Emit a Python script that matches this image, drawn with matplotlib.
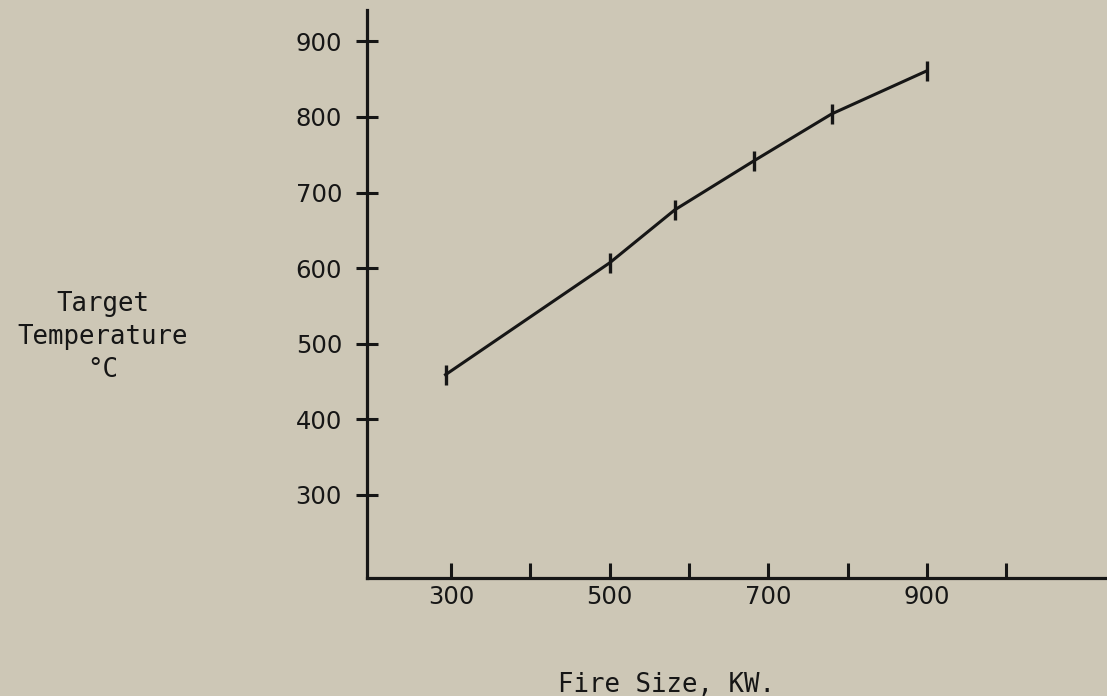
import matplotlib
matplotlib.use("Agg")
import matplotlib.pyplot as plt

# fire size (kW) vs target temperature (deg C)
fire_size = [293, 500, 582, 682, 780, 900]
target_temp = [459, 607, 677, 742, 804, 861]

x_ticks = [300, 400, 500, 600, 700, 800, 900, 1000]
x_labels = ["300", "", "500", "", "700", "", "900", ""]
y_ticks = [300, 400, 500, 600, 700, 800, 900]

paper = "#cdc7b6"
ink = "#161616"

fig = plt.figure(figsize=(11.07, 6.96), dpi=100, facecolor=paper)
ax = fig.add_axes([367 / 1107, 118.3 / 696, 740 / 1107, 567.7 / 696])
ax.set_facecolor(paper)

ax.plot(fire_size, target_temp, color=ink, lw=2.2, marker="|", ms=14, mew=2.4)

ax.set_xlim(194, 1127)
ax.set_ylim(190.5, 941.4)

for side in ["top", "right"]:
    ax.spines[side].set_visible(False)
for side in ["left", "bottom"]:
    ax.spines[side].set_color(ink)
    ax.spines[side].set_linewidth(2.3)

ax.set_xticks(x_ticks)
ax.set_xticklabels(x_labels)
ax.set_yticks(y_ticks)
ax.tick_params(axis="x", direction="in", length=11, width=2.2, color=ink,
               labelsize=17.5, labelcolor=ink, pad=5)
ax.tick_params(axis="y", direction="inout", length=16, width=2.2, color=ink,
               labelsize=17.5, labelcolor=ink, pad=10)

fig.text(103 / 1107, 1 - 337 / 696, "Target\nTemperature\n°C",
         family="DejaVu Sans Mono", fontsize=18.5, color=ink,
         ha="center", va="center", multialignment="center", linespacing=1.35)
fig.text(666 / 1107, 4 / 696, "Fire Size, KW.",
         family="DejaVu Sans Mono", fontsize=18.5, color=ink,
         ha="center", va="baseline")

fig.savefig("out.png", dpi=100, facecolor=paper)
